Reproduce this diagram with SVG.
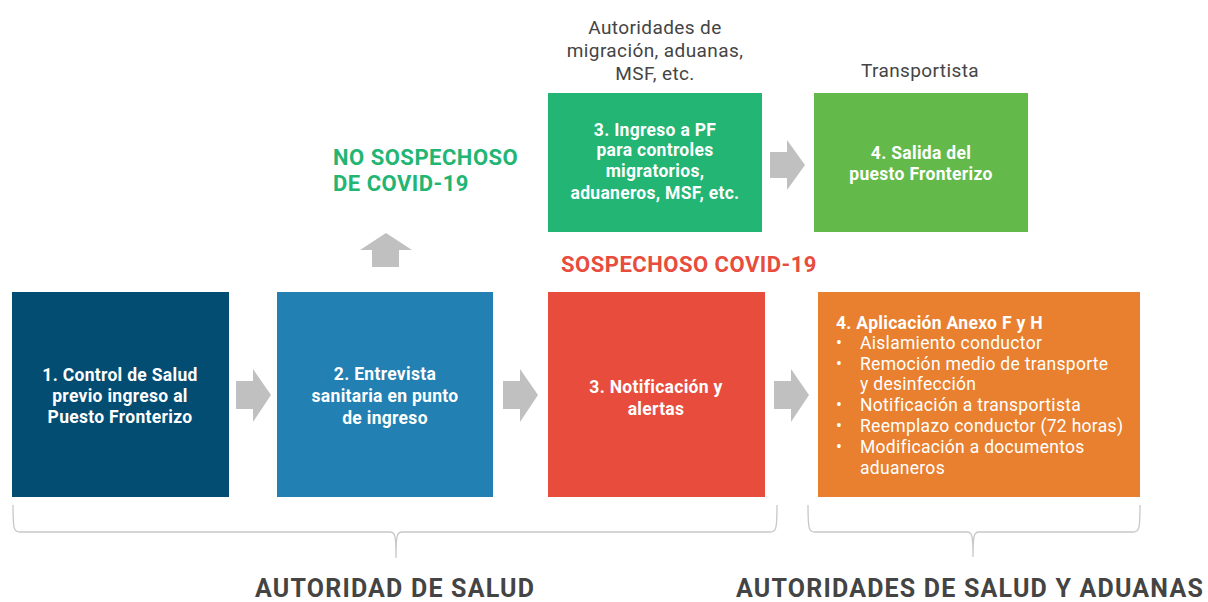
<svg xmlns="http://www.w3.org/2000/svg" width="1208" height="602" viewBox="0 0 1208 602">
<style>
.bt{font-family:Roboto,"Liberation Sans",sans-serif;font-weight:700;font-size:17.5px;letter-spacing:0.3px;fill:#fff;text-anchor:middle}
.rt{font-family:Roboto,"Liberation Sans",sans-serif;font-size:17.5px;letter-spacing:0.3px;fill:#fff}
.gt{font-family:Roboto,"Liberation Sans",sans-serif;font-size:19px;letter-spacing:0.4px;fill:#444;text-anchor:middle}
.lab{font-family:Roboto,"Liberation Sans",sans-serif;font-weight:700;font-size:22px;letter-spacing:0.5px}
.big{font-family:Roboto,"Liberation Sans",sans-serif;font-weight:700;font-size:25px;letter-spacing:1.2px;fill:#444;text-anchor:middle}
.arr{fill:#c0c0c0}
.br{fill:none;stroke:#c8c8c8;stroke-width:1.3}
</style>
<rect width="1208" height="602" fill="#fff"/>
<g id="connectors">
<path class="arr" d="M236,381H253V369L271,395L253,422V409H236Z"/>
<path class="arr" d="M503,381H520V369L538,395L520,422V409H503Z"/>
<path class="arr" d="M774,381H791V369L809,395L791,422V409H774Z"/>
<path class="arr" d="M770,152H787V140L805,165L787,190V178H770Z"/>
<path class="arr" d="M372,267V250H360L386,233L412,250H399V267Z"/>
</g>
<g id="node1"><rect x="12" y="292" width="217" height="205" fill="#034c72"/>
<text class="bt" x="120" y="381">1. Control de Salud</text><text class="bt" x="120" y="402">previo ingreso al</text><text class="bt" x="120" y="423">Puesto Fronterizo</text></g>
<g id="node2"><rect x="277" y="292" width="216" height="205" fill="#2280b2"/>
<text class="bt" x="385" y="380">2. Entrevista</text><text class="bt" x="385" y="402">sanitaria en punto</text><text class="bt" x="385" y="424">de ingreso</text></g>
<g id="node3"><rect x="548" y="292" width="217" height="205" fill="#e74c3c"/>
<text class="bt" x="656" y="393">3. Notificación y</text><text class="bt" x="656" y="415">alertas</text></g>
<g id="node4"><rect x="818" y="292" width="322" height="205" fill="#e8802f"/>
<text class="rt" x="836" y="329" font-weight="700">4. Aplicación Anexo F y H</text>
<text class="rt" x="836" y="349">•</text><text class="rt" x="860" y="349">Aislamiento conductor</text>
<text class="rt" x="836" y="370">•</text><text class="rt" x="860" y="370">Remoción medio de transporte</text>
<text class="rt" x="860" y="390">y desinfección</text>
<text class="rt" x="836" y="411">•</text><text class="rt" x="860" y="411">Notificación a transportista</text>
<text class="rt" x="836" y="432">•</text><text class="rt" x="860" y="432">Reemplazo conductor (72 horas)</text>
<text class="rt" x="836" y="453">•</text><text class="rt" x="860" y="453">Modificación a documentos</text>
<text class="rt" x="860" y="474">aduaneros</text></g>
<g id="node5"><rect x="548" y="93" width="214" height="139" fill="#22b573"/>
<text class="bt" x="655" y="136">3. Ingreso a PF</text><text class="bt" x="655" y="156">para controles</text><text class="bt" x="655" y="177">migratorios,</text><text class="bt" x="655" y="199">aduaneros, MSF, etc.</text></g>
<g id="node6"><rect x="814" y="93" width="214" height="139" fill="#63ba4a"/>
<text class="bt" x="921" y="159">4. Salida del</text><text class="bt" x="921" y="180">puesto Fronterizo</text></g>
<g id="labels">
<text class="gt" x="655" y="34">Autoridades de</text><text class="gt" x="655" y="57">migración, aduanas,</text><text class="gt" x="655" y="80">MSF, etc.</text>
<text class="gt" x="920" y="77">Transportista</text>
<text class="lab" x="333" y="165" fill="#22b573">NO SOSPECHOSO</text><text class="lab" x="333" y="191" fill="#22b573">DE COVID-19</text>
<text class="lab" x="689" y="272" fill="#e74c3c" text-anchor="middle">SOSPECHOSO COVID-19</text>
<text class="big" x="395" y="597">AUTORIDAD DE SALUD</text>
<text class="big" x="970" y="597" letter-spacing="1.1">AUTORIDADES DE SALUD Y ADUANAS</text>
</g>
<g id="braces">
<path class="br" d="M13,505C13,530 14,532 20,532H390C395,532 396,535 396,558C396,535 397,532 402,532H770C776,532 777,530 777,505"/>
<path class="br" d="M808,505C808,530 809,532 815,532H967C972,532 973,535 973,557C973,535 974,532 979,532H1133C1139,532 1140,530 1140,505"/>
</g>
</svg>
